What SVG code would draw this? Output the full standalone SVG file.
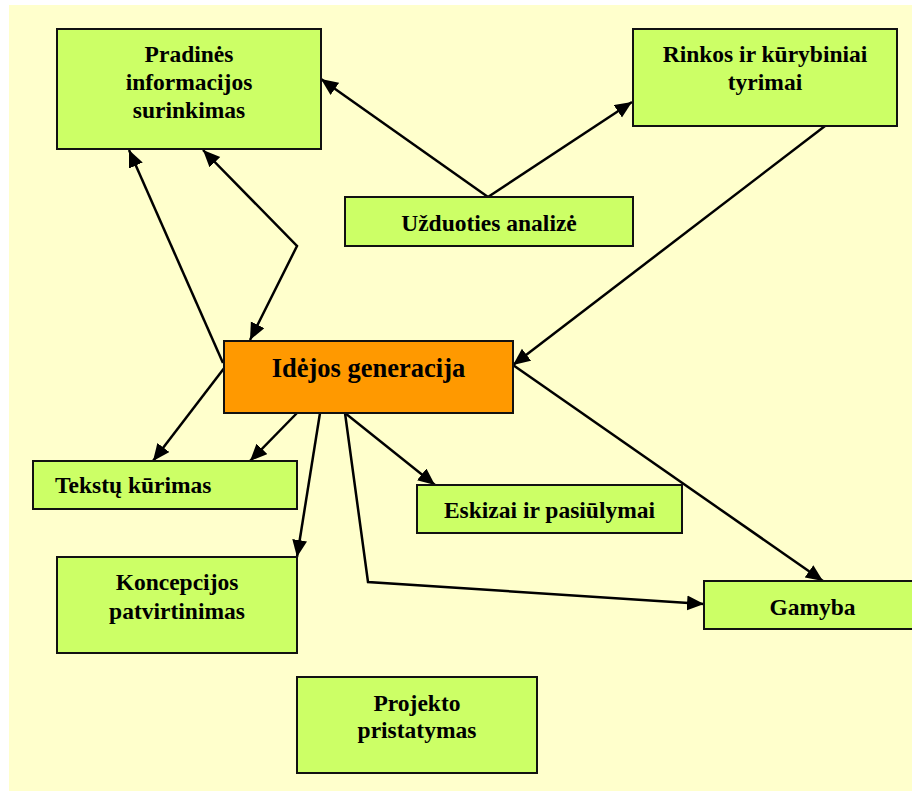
<svg xmlns="http://www.w3.org/2000/svg" width="912" height="793" viewBox="0 0 912 793">
  <style>
    .box { fill: #CCFF66; stroke: #111; stroke-width: 2; }
    .core { fill: #FF9900; stroke: #111; stroke-width: 2; }
    .lbl { font-family: "Liberation Serif", "Times New Roman", serif; font-weight: bold; font-size: 23.5px; fill: #000; text-anchor: middle; }
    .big { font-size: 26.5px; }
    .link { fill: none; stroke: #000; stroke-width: 2.5; stroke-linejoin: miter; }
  </style>
  <defs>
    <marker id="arrow" markerUnits="userSpaceOnUse" markerWidth="18" markerHeight="16" refX="17" refY="7.5" orient="auto-start-reverse">
      <path d="M0,0 L17,7.5 L0,15 z" fill="#000"/>
    </marker>
  </defs>

  <rect x="0" y="0" width="912" height="793" fill="#FFFFFF"/>
  <rect x="9" y="5" width="903" height="786" fill="#FFFFCC"/>

  <g id="connectors">
    <line class="link" x1="488" y1="197" x2="321" y2="79" marker-end="url(#arrow)"/>
    <line class="link" x1="488" y1="197" x2="632" y2="102" marker-end="url(#arrow)"/>
    <line class="link" x1="825" y1="126" x2="513" y2="365" marker-end="url(#arrow)"/>
    <line class="link" x1="223" y1="363" x2="129" y2="150" marker-end="url(#arrow)"/>
    <polyline class="link" points="203,150 297,246 250,340" marker-start="url(#arrow)" marker-end="url(#arrow)"/>
    <line class="link" x1="225" y1="367" x2="153" y2="461" marker-end="url(#arrow)"/>
    <line class="link" x1="297" y1="413" x2="250" y2="461" marker-end="url(#arrow)"/>
    <line class="link" x1="320" y1="413" x2="297" y2="557" marker-end="url(#arrow)"/>
    <line class="link" x1="345" y1="413" x2="435" y2="485" marker-end="url(#arrow)"/>
    <polyline class="link" points="345,413 368,582 704,604" marker-end="url(#arrow)"/>
    <line class="link" x1="513" y1="365" x2="823" y2="581" marker-end="url(#arrow)"/>
  </g>

  <g id="pradines">
    <rect class="box" x="57" y="29" width="264" height="120"/>
    <text class="lbl" x="189" y="62">Pradinės</text>
    <text class="lbl" x="189" y="90">informacijos</text>
    <text class="lbl" x="189" y="118">surinkimas</text>
  </g>

  <g id="rinkos">
    <rect class="box" x="633" y="29" width="264" height="97"/>
    <text class="lbl" x="765" y="62">Rinkos ir kūrybiniai</text>
    <text class="lbl" x="765" y="90">tyrimai</text>
  </g>

  <g id="uzduoties">
    <rect class="box" x="345" y="197" width="288" height="49"/>
    <text class="lbl" x="489" y="231">Užduoties analizė</text>
  </g>

  <g id="idejos">
    <rect class="core" x="224" y="341" width="289" height="72"/>
    <text class="lbl big" x="368.5" y="377">Idėjos generacija</text>
  </g>

  <g id="tekstu">
    <rect class="box" x="33" y="461" width="264" height="48"/>
    <text class="lbl" x="55" y="493" style="text-anchor: start">Tekstų kūrimas</text>
  </g>

  <g id="eskizai">
    <rect class="box" x="417" y="485" width="265" height="48"/>
    <text class="lbl" x="549.5" y="518">Eskizai ir pasiūlymai</text>
  </g>

  <g id="koncepcijos">
    <rect class="box" x="57" y="557" width="240" height="96"/>
    <text class="lbl" x="177" y="590">Koncepcijos</text>
    <text class="lbl" x="177" y="619">patvirtinimas</text>
  </g>

  <g id="gamyba">
    <rect class="box" x="704" y="581" width="217" height="48"/>
    <text class="lbl" x="812.5" y="615">Gamyba</text>
  </g>

  <g id="projekto">
    <rect class="box" x="297" y="677" width="240" height="96"/>
    <text class="lbl" x="417" y="711">Projekto</text>
    <text class="lbl" x="417" y="738">pristatymas</text>
  </g>
</svg>
